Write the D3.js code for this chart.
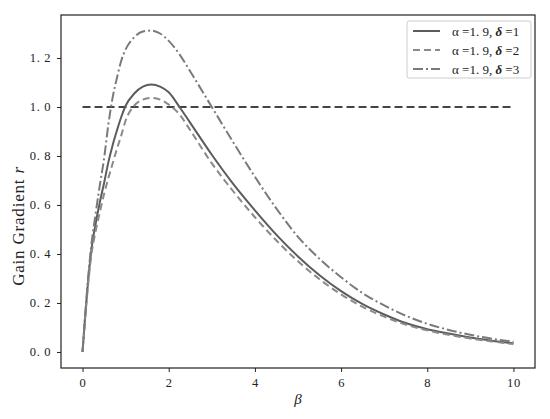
<!DOCTYPE html>
<html>
<head>
<meta charset="utf-8">
<script src="https://cdn.jsdelivr.net/npm/d3@7"></script>
<style>
  body { margin: 0; background: #fff; }
  text { font-family: "Liberation Serif", "DejaVu Serif", serif; fill: #222; }
</style>
</head>
<body>
<div class="svg"></div>
<script>
// beta values
var betaVals = [0, 0.05, 0.1, 0.2, 0.3, 0.4, 0.5, 0.6, 0.7, 0.8, 0.9, 1.0, 1.2, 1.4, 1.6, 1.8, 2.0, 2.25, 2.5, 3.0, 3.5, 4.0, 4.5, 5.0, 5.5, 6.0, 6.5, 7.0, 7.5, 8.0, 8.5, 9.0, 9.5, 10];

var rDelta1 = [0, 0.12, 0.23, 0.41, 0.52, 0.61, 0.69, 0.775, 0.845, 0.905, 0.96, 1.005, 1.055, 1.083, 1.092, 1.083, 1.06, 1.0, 0.935, 0.805, 0.685, 0.578, 0.478, 0.39, 0.313, 0.248, 0.195, 0.153, 0.118, 0.093, 0.075, 0.059, 0.046, 0.035];
var rDelta2 = [0, 0.115, 0.22, 0.39, 0.49, 0.57, 0.645, 0.71, 0.77, 0.83, 0.885, 0.945, 1.005, 1.03, 1.037, 1.03, 1.01, 0.97, 0.905, 0.77, 0.655, 0.55, 0.455, 0.37, 0.297, 0.235, 0.184, 0.144, 0.112, 0.088, 0.07, 0.055, 0.043, 0.032];
var rDelta3 = [0, 0.125, 0.24, 0.43, 0.56, 0.68, 0.79, 0.93, 1.04, 1.12, 1.19, 1.235, 1.285, 1.308, 1.312, 1.30, 1.27, 1.215, 1.145, 1.0, 0.855, 0.715, 0.585, 0.47, 0.38, 0.305, 0.24, 0.19, 0.148, 0.115, 0.09, 0.07, 0.054, 0.042];

var yTicks = [0.0, 0.2, 0.4, 0.6, 0.8, 1.0, 1.2];
var xTicks = [0, 2, 4, 6, 8, 10];
var legendLabels = ["1", "2", "3"];

var w = 550, h = 419;
var margin = { top: 15, right: 15, bottom: 51, left: 61 };
var width = w - margin.left - margin.right;
var height = h - margin.top - margin.bottom;

var svg = d3.select(".svg").append("svg").attr("width", w).attr("height", h);
var chart = svg.append("g").attr("transform", "translate(" + margin.left + "," + margin.top + ")");

var xScale = d3.scaleLinear().domain([-0.5, 10.5]).range([0, width]);
var yScale = d3.scaleLinear().domain([-0.0655, 1.3755]).range([height, 0]);

var fmt = function(d) { return d3.format(".1f")(d).replace(".", ". "); };

var xAxis = d3.axisBottom(xScale).tickValues(xTicks).tickSize(4).tickPadding(6).tickFormat(d3.format("d"));
var yAxis = d3.axisLeft(yScale).tickValues(yTicks).tickSize(4).tickPadding(6).tickFormat(fmt);

chart.append("g").attr("class", "x axis").attr("transform", "translate(0," + height + ")").call(xAxis);
chart.append("g").attr("class", "y axis").call(yAxis);

chart.selectAll(".axis").attr("font-family", null);
chart.selectAll(".axis .domain").remove();
chart.selectAll(".axis line").attr("stroke", "#222");
chart.selectAll(".axis text").style("font-size", "12.5px").style("letter-spacing", "0.6px")
     .style("font-family", "'Liberation Serif', serif").attr("fill", "#333");

chart.append("rect").attr("x", 0).attr("y", 0).attr("width", width).attr("height", height)
     .attr("fill", "none").attr("stroke", "#222").attr("stroke-width", 1.2);

// reference line r = 1
chart.append("line")
     .attr("x1", xScale(0)).attr("x2", xScale(10))
     .attr("y1", yScale(1)).attr("y2", yScale(1))
     .attr("stroke", "#444").attr("stroke-width", 2).attr("stroke-dasharray", "8,4");

var series = [
  { values: rDelta1, color: "#5c5c5c", dash: null },
  { values: rDelta2, color: "#8a8a8a", dash: "7,4" },
  { values: rDelta3, color: "#7a7a7a", dash: "10,3,2,3" }
];

var line = d3.line()
  .x(function(d) { return xScale(d[0]); })
  .y(function(d) { return yScale(d[1]); })
  .curve(d3.curveMonotoneX);

series.forEach(function(s) {
  var pts = betaVals.map(function(b, i) { return [b, s.values[i]]; });
  chart.append("path").datum(pts)
       .attr("d", line)
       .attr("fill", "none")
       .attr("stroke", s.color)
       .attr("stroke-width", 2)
       .attr("stroke-dasharray", s.dash);
});

// legend
var legend = svg.append("g").attr("transform", "translate(407,21)");
legend.append("rect").attr("x", 0).attr("y", 0).attr("width", 124).attr("height", 57).attr("rx", 2)
      .attr("fill", "#fff").attr("stroke", "#ccc");

series.forEach(function(s, i) {
  var yy = 10 + i * 19;
  legend.append("line").attr("x1", 6).attr("x2", 33).attr("y1", yy).attr("y2", yy)
        .attr("stroke", s.color).attr("stroke-width", 2).attr("stroke-dasharray", s.dash);
  var t = legend.append("text").attr("x", 45).attr("y", yy + 4.5).style("font-size", "13px");
  t.append("tspan").text("α =1. 9,  ");
  t.append("tspan").style("font-style", "italic").style("font-weight", "bold").text("δ");
  t.append("tspan").text(" =" + legendLabels[i]);
});

// axis titles
svg.append("text").attr("x", margin.left + xScale(5)).attr("y", 404)
   .attr("text-anchor", "middle").style("font-size", "15px").style("font-style", "italic").text("β");

var yl = svg.append("text").attr("transform", "translate(24,226) rotate(-90)")
   .attr("text-anchor", "middle").style("font-size", "17px").style("letter-spacing", "0.8px");
yl.append("tspan").text("Gain Gradient ");
yl.append("tspan").style("font-style", "italic").text("r");
</script>
</body>
</html>
